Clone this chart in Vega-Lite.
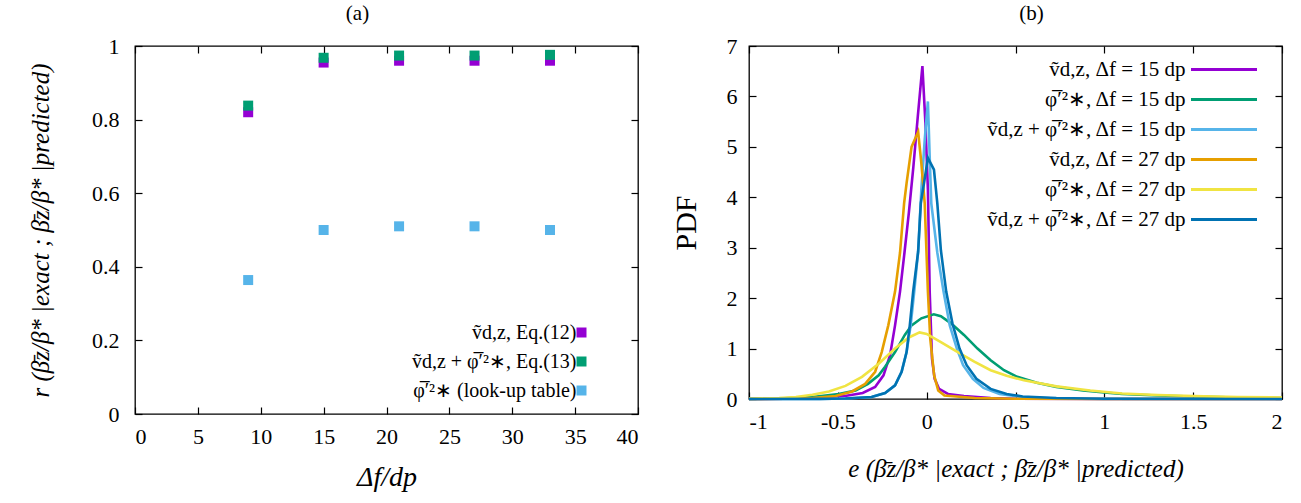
{
  "$schema": "https://vega.github.io/schema/vega-lite/v6.json",
  "background": "white",
  "padding": {"left": 27, "top": 2, "right": 5, "bottom": 5},
  "spacing": 30,
  "resolve": {"scale": {"color": "independent"}, "legend": {"color": "independent"}},
  "config": {
    "font": "Liberation Serif",
    "view": {"stroke": "black", "strokeWidth": 1.3},
    "axis": {"grid": false, "domain": false, "tickColor": "black", "tickSize": -7, "tickWidth": 1.2,
      "labelFont": "Liberation Serif", "labelFontSize": 22, "labelColor": "black", "labelPadding": 19,
      "titleFont": "Liberation Serif", "titleFontWeight": "normal", "titleColor": "black"},
    "title": {"font": "Liberation Serif", "fontSize": 21, "fontWeight": "normal", "color": "black", "offset": 11},
    "legend": {"labelFont": "Liberation Serif", "labelColor": "black", "labelLimit": 0}
  },
  "hconcat": [
    {
      "width": 503,
      "height": 368,
      "title": {"text": "(a)", "dx": -29},
      "data": {"values": [
        {"d": 9, "r": 0.82, "s": "ṽd,z, Eq.(12)"},
        {"d": 15, "r": 0.955, "s": "ṽd,z, Eq.(12)"},
        {"d": 21, "r": 0.96, "s": "ṽd,z, Eq.(12)"},
        {"d": 27, "r": 0.96, "s": "ṽd,z, Eq.(12)"},
        {"d": 33, "r": 0.96, "s": "ṽd,z, Eq.(12)"},
        {"d": 9, "r": 0.838, "s": "ṽd,z + φ̅′²∗, Eq.(13)"},
        {"d": 15, "r": 0.968, "s": "ṽd,z + φ̅′²∗, Eq.(13)"},
        {"d": 21, "r": 0.974, "s": "ṽd,z + φ̅′²∗, Eq.(13)"},
        {"d": 27, "r": 0.974, "s": "ṽd,z + φ̅′²∗, Eq.(13)"},
        {"d": 33, "r": 0.976, "s": "ṽd,z + φ̅′²∗, Eq.(13)"},
        {"d": 9, "r": 0.364, "s": "φ̅′²∗ (look-up table)"},
        {"d": 15, "r": 0.5, "s": "φ̅′²∗ (look-up table)"},
        {"d": 21, "r": 0.51, "s": "φ̅′²∗ (look-up table)"},
        {"d": 27, "r": 0.51, "s": "φ̅′²∗ (look-up table)"},
        {"d": 33, "r": 0.5, "s": "φ̅′²∗ (look-up table)"}
      ]},
      "layer": [
        {
          "mark": {"type": "point", "shape": "square", "filled": true, "size": 100, "opacity": 1},
          "encoding": {
            "x": {"field": "d", "type": "quantitative", "scale": {"domain": [0, 40], "nice": false},
              "axis": {"values": [0, 5, 10, 15, 20, 25, 30, 35, 40], "title": "Δf/dp", "titleFontSize": 28, "titleFontStyle": "italic", "titlePadding": 16}},
            "y": {"field": "r", "type": "quantitative", "scale": {"domain": [0, 1], "nice": false},
              "axis": {"values": [0, 0.2, 0.4, 0.6, 0.8, 1], "labelExpr": "'' + datum.value", "labelPadding": 23, "title": "r (β̄z/β* |exact ; β̄z/β* |predicted)", "titleFontSize": 25, "titleFontStyle": "italic", "titlePadding": 38}},
            "color": {"field": "s", "type": "nominal",
              "scale": {"domain": ["ṽd,z, Eq.(12)", "ṽd,z + φ̅′²∗, Eq.(13)", "φ̅′²∗ (look-up table)"], "range": ["#9400d3", "#009e73", "#56b4e9"]},
              "legend": {"title": null, "orient": "none", "legendX": 436.5, "legendY": 276.5, "symbolType": "square", "symbolSize": 100, "symbolStrokeWidth": 0, "symbolOpacity": 1, "labelAlign": "right", "labelOffset": -15, "labelFontSize": 20, "rowPadding": 9}}
          }
        },
        {
          "mark": {"type": "point", "opacity": 0},
          "encoding": {
            "x": {"field": "d", "type": "quantitative", "axis": {"orient": "top", "values": [0, 5, 10, 15, 20, 25, 30, 35, 40], "labels": false, "title": null}},
            "y": {"field": "r", "type": "quantitative", "axis": {"orient": "right", "values": [0, 0.2, 0.4, 0.6, 0.8, 1], "labels": false, "title": null}}
          }
        }
      ],
      "resolve": {"axis": {"x": "independent", "y": "independent"}}
    },
    {
      "width": 533,
      "height": 353,
      "title": {"text": "(b)", "dx": 16},
      "data": {"values": [
        {"s": "ṽd,z, Δf = 15 dp", "e": -1, "p": 0},
        {"s": "ṽd,z, Δf = 15 dp", "e": -0.8, "p": 0.004},
        {"s": "ṽd,z, Δf = 15 dp", "e": -0.64, "p": 0.02},
        {"s": "ṽd,z, Δf = 15 dp", "e": -0.46, "p": 0.06},
        {"s": "ṽd,z, Δf = 15 dp", "e": -0.36, "p": 0.12},
        {"s": "ṽd,z, Δf = 15 dp", "e": -0.29, "p": 0.24},
        {"s": "ṽd,z, Δf = 15 dp", "e": -0.243, "p": 0.47},
        {"s": "ṽd,z, Δf = 15 dp", "e": -0.206, "p": 0.87},
        {"s": "ṽd,z, Δf = 15 dp", "e": -0.178, "p": 1.46},
        {"s": "ṽd,z, Δf = 15 dp", "e": -0.15, "p": 2.13},
        {"s": "ṽd,z, Δf = 15 dp", "e": -0.125, "p": 2.9},
        {"s": "ṽd,z, Δf = 15 dp", "e": -0.1, "p": 3.7},
        {"s": "ṽd,z, Δf = 15 dp", "e": -0.075, "p": 4.6},
        {"s": "ṽd,z, Δf = 15 dp", "e": -0.05, "p": 5.6},
        {"s": "ṽd,z, Δf = 15 dp", "e": -0.024, "p": 6.6},
        {"s": "ṽd,z, Δf = 15 dp", "e": -0.007, "p": 5.47},
        {"s": "ṽd,z, Δf = 15 dp", "e": 0.007, "p": 4.15},
        {"s": "ṽd,z, Δf = 15 dp", "e": 0.017, "p": 2.13},
        {"s": "ṽd,z, Δf = 15 dp", "e": 0.03, "p": 0.8},
        {"s": "ṽd,z, Δf = 15 dp", "e": 0.045, "p": 0.4},
        {"s": "ṽd,z, Δf = 15 dp", "e": 0.07, "p": 0.2},
        {"s": "ṽd,z, Δf = 15 dp", "e": 0.12, "p": 0.1},
        {"s": "ṽd,z, Δf = 15 dp", "e": 0.21, "p": 0.06},
        {"s": "ṽd,z, Δf = 15 dp", "e": 0.36, "p": 0.02},
        {"s": "ṽd,z, Δf = 15 dp", "e": 0.5, "p": 0.005},
        {"s": "ṽd,z, Δf = 15 dp", "e": 1, "p": 0},
        {"s": "ṽd,z, Δf = 15 dp", "e": 2, "p": 0},

        {"s": "φ̅′²∗, Δf = 15 dp", "e": -1, "p": 0.002},
        {"s": "φ̅′²∗, Δf = 15 dp", "e": -0.83, "p": 0.01},
        {"s": "φ̅′²∗, Δf = 15 dp", "e": -0.643, "p": 0.04},
        {"s": "φ̅′²∗, Δf = 15 dp", "e": -0.495, "p": 0.1},
        {"s": "φ̅′²∗, Δf = 15 dp", "e": -0.4, "p": 0.17},
        {"s": "φ̅′²∗, Δf = 15 dp", "e": -0.33, "p": 0.3},
        {"s": "φ̅′²∗, Δf = 15 dp", "e": -0.27, "p": 0.47},
        {"s": "φ̅′²∗, Δf = 15 dp", "e": -0.234, "p": 0.64},
        {"s": "φ̅′²∗, Δf = 15 dp", "e": -0.178, "p": 0.93},
        {"s": "φ̅′²∗, Δf = 15 dp", "e": -0.123, "p": 1.27},
        {"s": "φ̅′²∗, Δf = 15 dp", "e": -0.085, "p": 1.46},
        {"s": "φ̅′²∗, Δf = 15 dp", "e": -0.03, "p": 1.6},
        {"s": "φ̅′²∗, Δf = 15 dp", "e": 0.04, "p": 1.68},
        {"s": "φ̅′²∗, Δf = 15 dp", "e": 0.08, "p": 1.64},
        {"s": "φ̅′²∗, Δf = 15 dp", "e": 0.137, "p": 1.5},
        {"s": "φ̅′²∗, Δf = 15 dp", "e": 0.21, "p": 1.27},
        {"s": "φ̅′²∗, Δf = 15 dp", "e": 0.286, "p": 1.0},
        {"s": "φ̅′²∗, Δf = 15 dp", "e": 0.36, "p": 0.77},
        {"s": "φ̅′²∗, Δf = 15 dp", "e": 0.435, "p": 0.57},
        {"s": "φ̅′²∗, Δf = 15 dp", "e": 0.51, "p": 0.44},
        {"s": "φ̅′²∗, Δf = 15 dp", "e": 0.62, "p": 0.32},
        {"s": "φ̅′²∗, Δf = 15 dp", "e": 0.73, "p": 0.24},
        {"s": "φ̅′²∗, Δf = 15 dp", "e": 0.88, "p": 0.17},
        {"s": "φ̅′²∗, Δf = 15 dp", "e": 1.0, "p": 0.13},
        {"s": "φ̅′²∗, Δf = 15 dp", "e": 1.1, "p": 0.1},
        {"s": "φ̅′²∗, Δf = 15 dp", "e": 1.3, "p": 0.07},
        {"s": "φ̅′²∗, Δf = 15 dp", "e": 1.5, "p": 0.05},
        {"s": "φ̅′²∗, Δf = 15 dp", "e": 1.75, "p": 0.03},
        {"s": "φ̅′²∗, Δf = 15 dp", "e": 2, "p": 0.02},

        {"s": "ṽd,z + φ̅′²∗, Δf = 15 dp", "e": -1, "p": 0},
        {"s": "ṽd,z + φ̅′²∗, Δf = 15 dp", "e": -0.6, "p": 0.003},
        {"s": "ṽd,z + φ̅′²∗, Δf = 15 dp", "e": -0.457, "p": 0.01},
        {"s": "ṽd,z + φ̅′²∗, Δf = 15 dp", "e": -0.31, "p": 0.04},
        {"s": "ṽd,z + φ̅′²∗, Δf = 15 dp", "e": -0.234, "p": 0.12},
        {"s": "ṽd,z + φ̅′²∗, Δf = 15 dp", "e": -0.178, "p": 0.27},
        {"s": "ṽd,z + φ̅′²∗, Δf = 15 dp", "e": -0.141, "p": 0.54},
        {"s": "ṽd,z + φ̅′²∗, Δf = 15 dp", "e": -0.113, "p": 0.93},
        {"s": "ṽd,z + φ̅′²∗, Δf = 15 dp", "e": -0.09, "p": 1.46},
        {"s": "ṽd,z + φ̅′²∗, Δf = 15 dp", "e": -0.07, "p": 2.13},
        {"s": "ṽd,z + φ̅′²∗, Δf = 15 dp", "e": -0.048, "p": 2.92},
        {"s": "ṽd,z + φ̅′²∗, Δf = 15 dp", "e": -0.03, "p": 4.15},
        {"s": "ṽd,z + φ̅′²∗, Δf = 15 dp", "e": -0.011, "p": 5.14},
        {"s": "ṽd,z + φ̅′²∗, Δf = 15 dp", "e": 0.007, "p": 5.9},
        {"s": "ṽd,z + φ̅′²∗, Δf = 15 dp", "e": 0.017, "p": 4.81},
        {"s": "ṽd,z + φ̅′²∗, Δf = 15 dp", "e": 0.026, "p": 3.88},
        {"s": "ṽd,z + φ̅′²∗, Δf = 15 dp", "e": 0.06, "p": 2.9},
        {"s": "ṽd,z + φ̅′²∗, Δf = 15 dp", "e": 0.095, "p": 2.13},
        {"s": "ṽd,z + φ̅′²∗, Δf = 15 dp", "e": 0.13, "p": 1.46},
        {"s": "ṽd,z + φ̅′²∗, Δf = 15 dp", "e": 0.17, "p": 1.0},
        {"s": "ṽd,z + φ̅′²∗, Δf = 15 dp", "e": 0.205, "p": 0.67},
        {"s": "ṽd,z + φ̅′²∗, Δf = 15 dp", "e": 0.26, "p": 0.4},
        {"s": "ṽd,z + φ̅′²∗, Δf = 15 dp", "e": 0.32, "p": 0.22},
        {"s": "ṽd,z + φ̅′²∗, Δf = 15 dp", "e": 0.41, "p": 0.1},
        {"s": "ṽd,z + φ̅′²∗, Δf = 15 dp", "e": 0.54, "p": 0.04},
        {"s": "ṽd,z + φ̅′²∗, Δf = 15 dp", "e": 0.73, "p": 0.01},
        {"s": "ṽd,z + φ̅′²∗, Δf = 15 dp", "e": 1, "p": 0.003},
        {"s": "ṽd,z + φ̅′²∗, Δf = 15 dp", "e": 2, "p": 0},

        {"s": "ṽd,z, Δf = 27 dp", "e": -1, "p": 0},
        {"s": "ṽd,z, Δf = 27 dp", "e": -0.8, "p": 0.005},
        {"s": "ṽd,z, Δf = 27 dp", "e": -0.643, "p": 0.02},
        {"s": "ṽd,z, Δf = 27 dp", "e": -0.513, "p": 0.06},
        {"s": "ṽd,z, Δf = 27 dp", "e": -0.42, "p": 0.15},
        {"s": "ṽd,z, Δf = 27 dp", "e": -0.346, "p": 0.3},
        {"s": "ṽd,z, Δf = 27 dp", "e": -0.29, "p": 0.54},
        {"s": "ṽd,z, Δf = 27 dp", "e": -0.253, "p": 0.93},
        {"s": "ṽd,z, Δf = 27 dp", "e": -0.216, "p": 1.46},
        {"s": "ṽd,z, Δf = 27 dp", "e": -0.178, "p": 2.13},
        {"s": "ṽd,z, Δf = 27 dp", "e": -0.15, "p": 2.9},
        {"s": "ṽd,z, Δf = 27 dp", "e": -0.127, "p": 3.88},
        {"s": "ṽd,z, Δf = 27 dp", "e": -0.113, "p": 4.28},
        {"s": "ṽd,z, Δf = 27 dp", "e": -0.085, "p": 5.0},
        {"s": "ṽd,z, Δf = 27 dp", "e": -0.048, "p": 5.3},
        {"s": "ṽd,z, Δf = 27 dp", "e": -0.03, "p": 4.68},
        {"s": "ṽd,z, Δf = 27 dp", "e": -0.011, "p": 3.88},
        {"s": "ṽd,z, Δf = 27 dp", "e": 0.007, "p": 2.13},
        {"s": "ṽd,z, Δf = 27 dp", "e": 0.02, "p": 1.2},
        {"s": "ṽd,z, Δf = 27 dp", "e": 0.042, "p": 0.47},
        {"s": "ṽd,z, Δf = 27 dp", "e": 0.065, "p": 0.17},
        {"s": "ṽd,z, Δf = 27 dp", "e": 0.1, "p": 0.07},
        {"s": "ṽd,z, Δf = 27 dp", "e": 0.27, "p": 0.02},
        {"s": "ṽd,z, Δf = 27 dp", "e": 0.5, "p": 0.005},
        {"s": "ṽd,z, Δf = 27 dp", "e": 1, "p": 0},
        {"s": "ṽd,z, Δf = 27 dp", "e": 2, "p": 0},

        {"s": "φ̅′²∗, Δf = 27 dp", "e": -1, "p": 0.004},
        {"s": "φ̅′²∗, Δf = 27 dp", "e": -0.83, "p": 0.02},
        {"s": "φ̅′²∗, Δf = 27 dp", "e": -0.736, "p": 0.04},
        {"s": "φ̅′²∗, Δf = 27 dp", "e": -0.643, "p": 0.085},
        {"s": "φ̅′²∗, Δf = 27 dp", "e": -0.55, "p": 0.15},
        {"s": "φ̅′²∗, Δf = 27 dp", "e": -0.457, "p": 0.26},
        {"s": "φ̅′²∗, Δf = 27 dp", "e": -0.364, "p": 0.44},
        {"s": "φ̅′²∗, Δf = 27 dp", "e": -0.27, "p": 0.7},
        {"s": "φ̅′²∗, Δf = 27 dp", "e": -0.178, "p": 1.0},
        {"s": "φ̅′²∗, Δf = 27 dp", "e": -0.1, "p": 1.22},
        {"s": "φ̅′²∗, Δf = 27 dp", "e": -0.04, "p": 1.32},
        {"s": "φ̅′²∗, Δf = 27 dp", "e": 0.0, "p": 1.29},
        {"s": "φ̅′²∗, Δf = 27 dp", "e": 0.08, "p": 1.13},
        {"s": "φ̅′²∗, Δf = 27 dp", "e": 0.175, "p": 0.93},
        {"s": "φ̅′²∗, Δf = 27 dp", "e": 0.268, "p": 0.74},
        {"s": "φ̅′²∗, Δf = 27 dp", "e": 0.36, "p": 0.57},
        {"s": "φ̅′²∗, Δf = 27 dp", "e": 0.45, "p": 0.46},
        {"s": "φ̅′²∗, Δf = 27 dp", "e": 0.547, "p": 0.37},
        {"s": "φ̅′²∗, Δf = 27 dp", "e": 0.73, "p": 0.25},
        {"s": "φ̅′²∗, Δf = 27 dp", "e": 0.92, "p": 0.17},
        {"s": "φ̅′²∗, Δf = 27 dp", "e": 1.1, "p": 0.11},
        {"s": "φ̅′²∗, Δf = 27 dp", "e": 1.3, "p": 0.08},
        {"s": "φ̅′²∗, Δf = 27 dp", "e": 1.5, "p": 0.06},
        {"s": "φ̅′²∗, Δf = 27 dp", "e": 1.75, "p": 0.04},
        {"s": "φ̅′²∗, Δf = 27 dp", "e": 2, "p": 0.03},

        {"s": "ṽd,z + φ̅′²∗, Δf = 27 dp", "e": -1, "p": 0},
        {"s": "ṽd,z + φ̅′²∗, Δf = 27 dp", "e": -0.6, "p": 0.003},
        {"s": "ṽd,z + φ̅′²∗, Δf = 27 dp", "e": -0.457, "p": 0.01},
        {"s": "ṽd,z + φ̅′²∗, Δf = 27 dp", "e": -0.31, "p": 0.04},
        {"s": "ṽd,z + φ̅′²∗, Δf = 27 dp", "e": -0.234, "p": 0.12},
        {"s": "ṽd,z + φ̅′²∗, Δf = 27 dp", "e": -0.178, "p": 0.27},
        {"s": "ṽd,z + φ̅′²∗, Δf = 27 dp", "e": -0.141, "p": 0.54},
        {"s": "ṽd,z + φ̅′²∗, Δf = 27 dp", "e": -0.113, "p": 0.93},
        {"s": "ṽd,z + φ̅′²∗, Δf = 27 dp", "e": -0.095, "p": 1.46},
        {"s": "ṽd,z + φ̅′²∗, Δf = 27 dp", "e": -0.076, "p": 2.13},
        {"s": "ṽd,z + φ̅′²∗, Δf = 27 dp", "e": -0.048, "p": 2.92},
        {"s": "ṽd,z + φ̅′²∗, Δf = 27 dp", "e": -0.033, "p": 3.88},
        {"s": "ṽd,z + φ̅′²∗, Δf = 27 dp", "e": -0.015, "p": 4.28},
        {"s": "ṽd,z + φ̅′²∗, Δf = 27 dp", "e": 0.007, "p": 4.78},
        {"s": "ṽd,z + φ̅′²∗, Δf = 27 dp", "e": 0.041, "p": 4.55},
        {"s": "ṽd,z + φ̅′²∗, Δf = 27 dp", "e": 0.06, "p": 3.88},
        {"s": "ṽd,z + φ̅′²∗, Δf = 27 dp", "e": 0.08, "p": 2.95},
        {"s": "ṽd,z + φ̅′²∗, Δf = 27 dp", "e": 0.11, "p": 2.13},
        {"s": "ṽd,z + φ̅′²∗, Δf = 27 dp", "e": 0.145, "p": 1.5},
        {"s": "ṽd,z + φ̅′²∗, Δf = 27 dp", "e": 0.185, "p": 1.0},
        {"s": "ṽd,z + φ̅′²∗, Δf = 27 dp", "e": 0.225, "p": 0.67},
        {"s": "ṽd,z + φ̅′²∗, Δf = 27 dp", "e": 0.28, "p": 0.4},
        {"s": "ṽd,z + φ̅′²∗, Δf = 27 dp", "e": 0.36, "p": 0.2},
        {"s": "ṽd,z + φ̅′²∗, Δf = 27 dp", "e": 0.45, "p": 0.1},
        {"s": "ṽd,z + φ̅′²∗, Δf = 27 dp", "e": 0.54, "p": 0.05},
        {"s": "ṽd,z + φ̅′²∗, Δf = 27 dp", "e": 0.73, "p": 0.02},
        {"s": "ṽd,z + φ̅′²∗, Δf = 27 dp", "e": 1, "p": 0.005},
        {"s": "ṽd,z + φ̅′²∗, Δf = 27 dp", "e": 2, "p": 0}
      ]},
      "layer": [
        {
          "mark": {"type": "line", "strokeWidth": 2.6, "interpolate": "linear"},
          "encoding": {
            "x": {"field": "e", "type": "quantitative", "scale": {"domain": [-1, 2], "nice": false},
              "axis": {"values": [-1, -0.5, 0, 0.5, 1, 1.5, 2], "labelExpr": "'' + datum.value", "title": "e (β̄z/β* |exact ; β̄z/β* |predicted)", "titleFontSize": 25, "titleFontStyle": "italic", "titlePadding": 24}},
            "y": {"field": "p", "type": "quantitative", "scale": {"domain": [0, 7], "nice": false},
              "axis": {"values": [0, 1, 2, 3, 4, 5, 6, 7], "title": "PDF", "titleFontSize": 30, "titlePadding": 25}},
            "color": {"field": "s", "type": "nominal", "sort": null,
              "scale": {"domain": ["ṽd,z, Δf = 15 dp", "φ̅′²∗, Δf = 15 dp", "ṽd,z + φ̅′²∗, Δf = 15 dp", "ṽd,z, Δf = 27 dp", "φ̅′²∗, Δf = 27 dp", "ṽd,z + φ̅′²∗, Δf = 27 dp"],
                "range": ["#9400d3", "#009e73", "#56b4e9", "#e69f00", "#f0e442", "#0072b2"]},
              "legend": {"title": null, "orient": "none", "legendX": 464.5, "legendY": 13, "symbolType": "M-6,0H6", "symbolSize": 121, "symbolStrokeWidth": 3, "labelAlign": "right", "labelOffset": -49, "labelFontSize": 21, "rowPadding": 8}}
          }
        },
        {
          "mark": {"type": "point", "opacity": 0},
          "encoding": {
            "x": {"field": "e", "type": "quantitative", "axis": {"orient": "top", "values": [-1, -0.5, 0, 0.5, 1, 1.5, 2], "labels": false, "title": null}},
            "y": {"field": "p", "type": "quantitative", "axis": {"orient": "right", "values": [0, 1, 2, 3, 4, 5, 6, 7], "labels": false, "title": null}}
          }
        }
      ],
      "resolve": {"axis": {"x": "independent", "y": "independent"}}
    }
  ]
}
